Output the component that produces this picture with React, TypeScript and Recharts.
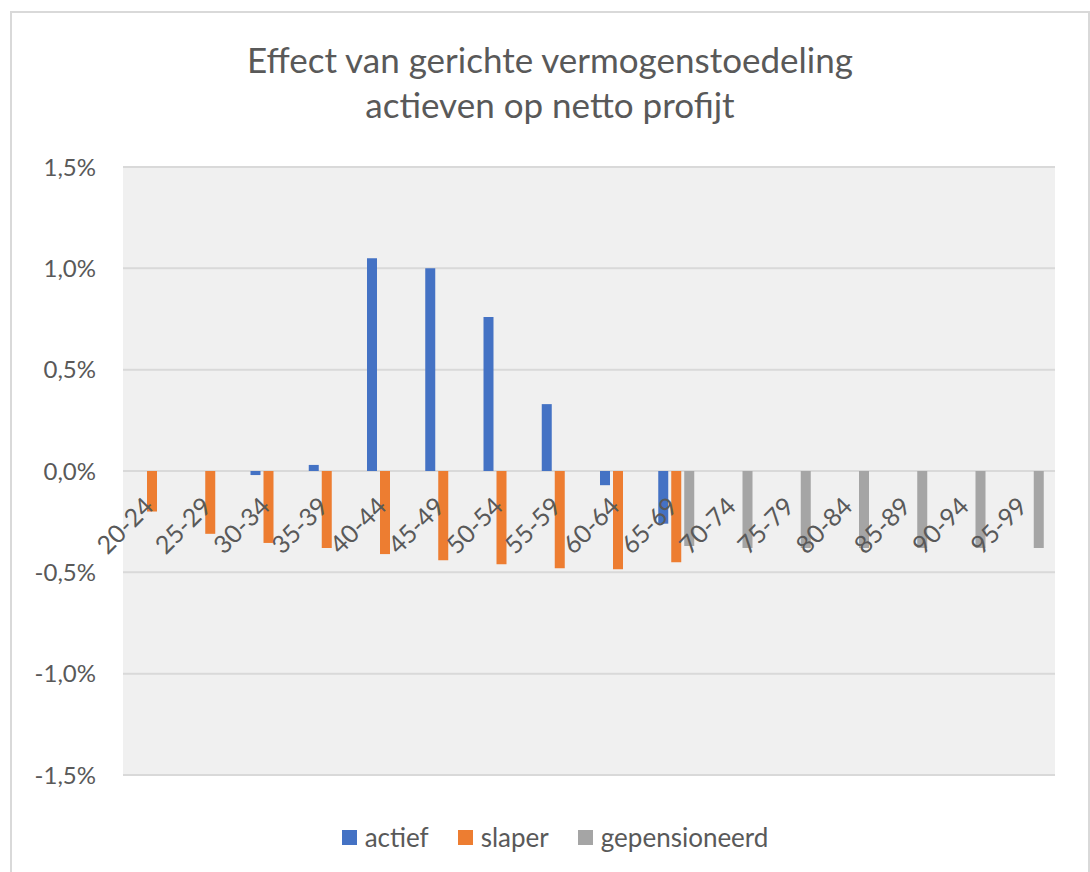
import React from 'react';
import { BarChart, Bar, XAxis, YAxis, CartesianGrid, Legend } from 'recharts';

// age groups on the x axis
const categories = ['20-24', '25-29', '30-34', '35-39', '40-44', '45-49', '50-54', '55-59',
    '60-64', '65-69', '70-74', '75-79', '80-84', '85-89', '90-94', '95-99'];

// values in percent
const actief = [0, 0, -0.02, 0.03, 1.05, 1.0, 0.76, 0.33, -0.07, -0.26, null, null, null, null, null, null];
const slaper = [-0.2, -0.31, -0.355, -0.38, -0.41, -0.44, -0.46, -0.48, -0.485, -0.45, null, null, null, null, null, null];
const gepensioneerd = [null, null, null, null, null, null, null, null, null, -0.37, -0.38, -0.38, -0.38, -0.38, -0.38, -0.38];

const yTicks = [-1.5, -1, -0.5, 0, 0.5, 1, 1.5];

const series = [
    { key: 'actief', color: '#4472C4' },
    { key: 'slaper', color: '#ED7D31' },
    { key: 'gepensioneerd', color: '#A5A5A5' },
];

const data = categories.map((name, i) => ({
    name,
    actief: actief[i],
    slaper: slaper[i],
    gepensioneerd: gepensioneerd[i],
}));

const FONT = 'Lato, "Open Sans", sans-serif';
const TEXT = '#595959';

const CW = 1076;
const CH = 866;
const MARGIN = { top: 154, right: 33, left: 31, bottom: 27 };
const LEGEND_H = 30;
const XAXIS_H = 47;
const PLOT_H = CH - MARGIN.top - MARGIN.bottom - LEGEND_H - XAXIS_H;
// domain is symmetric, so the zero line sits in the middle of the plot
const ZERO_Y = MARGIN.top + PLOT_H / 2;

const fmt = (v: number) => v.toFixed(1).replace('.', ',') + '%';

const XTick = (props: any) => {
    const { x, payload } = props;
    const tx = x + 3;
    const ty = ZERO_Y + 37;
    return (
        <text x={tx} y={ty} transform={`rotate(-45, ${tx}, ${ty})`} textAnchor="end"
            fontSize={25} fill={TEXT} fontFamily={FONT}>
            {payload.value}
        </text>
    );
};

const LegendContent = () => (
    <div style={{ height: LEGEND_H, display: 'flex', justifyContent: 'center', alignItems: 'center', gap: 29, paddingLeft: 12, fontFamily: FONT, fontSize: 26, color: TEXT }}>
        {series.map((s) => (
            <div key={s.key} style={{ display: 'flex', alignItems: 'center', gap: 8 }}>
                <span style={{ width: 15, height: 15, background: s.color, display: 'inline-block' }} />
                <span>{s.key}</span>
            </div>
        ))}
    </div>
);

export default function App() {
    return (
        <div style={{ position: 'absolute', left: 10, top: 11, width: 1080, height: 870, border: '2px solid #D9D9D9', boxSizing: 'border-box', background: '#fff' }}>
            <div style={{ position: 'absolute', left: 0, right: 0, top: 24, textAlign: 'center', fontFamily: FONT, fontSize: 35, lineHeight: '45px', color: TEXT }}>
                Effect van gerichte vermogenstoedeling<br />actieven op netto profijt
            </div>
            <BarChart width={CW} height={CH} data={data} margin={MARGIN} barSize={10} barGap={3}>
                <CartesianGrid vertical={false} stroke="#D9D9D9" strokeWidth={2} fill="#F0F0F0" />
                <XAxis dataKey="name" height={XAXIS_H} axisLine={false} tickLine={false} interval={0} tick={XTick} />
                <YAxis width={80} domain={[-1.5, 1.5]} ticks={yTicks} tickFormatter={fmt} axisLine={false} tickLine={false}
                    tickMargin={21} tick={{ fontSize: 24, fill: TEXT, fontFamily: FONT }} />
                <Legend verticalAlign="bottom" height={LEGEND_H} content={LegendContent} />
                {series.map((s) => (
                    <Bar key={s.key} dataKey={s.key} fill={s.color} isAnimationActive={false} />
                ))}
            </BarChart>
        </div>
    );
}
